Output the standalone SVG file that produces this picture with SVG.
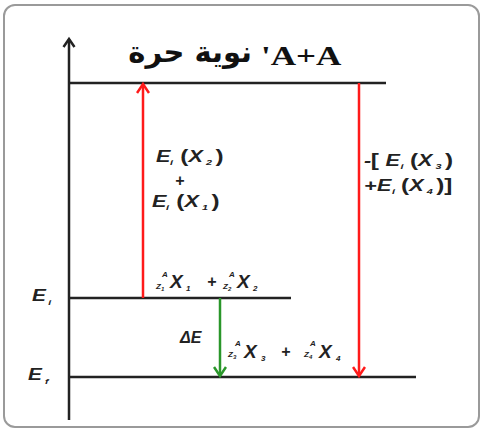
<svg xmlns="http://www.w3.org/2000/svg" width="483" height="430" viewBox="0 0 483 430">
<style>
.lvl{stroke:#222;stroke-width:2.5;fill:none}
.lbl{font-family:"Liberation Sans",Arial,sans-serif;font-style:italic;font-weight:bold;font-size:16px;fill:#222}
.pa{font-size:18px;font-style:normal}
.sm{font-size:8px}
.tn{font-size:6px}
.ttl{font-family:"Liberation Serif","Times New Roman",serif;font-weight:bold;font-size:27px;fill:#111}
.ar{font-family:"DejaVu Sans",sans-serif;font-weight:bold;font-size:29px;fill:#111}
</style>
<defs>
<marker id="hr" markerWidth="14" markerHeight="14" refX="11" refY="7" orient="auto-start-reverse" markerUnits="userSpaceOnUse" viewBox="0 0 14 14">
<polyline points="2,1 11,7 2,13" fill="none" stroke="#ff1a1a" stroke-width="2.5"/>
</marker>
<marker id="hg" markerWidth="14" markerHeight="14" refX="11" refY="7" orient="auto-start-reverse" markerUnits="userSpaceOnUse" viewBox="0 0 14 14">
<polyline points="2,1 11,7 2,13" fill="none" stroke="#2a962a" stroke-width="2.5"/>
</marker>
<marker id="hk" markerWidth="14" markerHeight="14" refX="11" refY="7" orient="auto-start-reverse" markerUnits="userSpaceOnUse" viewBox="0 0 14 14">
<polyline points="3,1.5 11,7 3,12.5" fill="none" stroke="#222" stroke-width="2.5"/>
</marker>
</defs>
<rect x="4" y="5" width="475" height="422" rx="11" fill="#fff" stroke="#9a9a9a" stroke-width="2"/>
<g id="axis">
<line x1="69" y1="39" x2="69" y2="420" class="lvl" marker-start="url(#hk)"/>
</g>
<g id="title">
<text class="ttl" transform="translate(261,65) scale(1.3,1)">'A+A</text>
<text x="252" y="62" class="ar" text-anchor="end">نوية حرة</text>
</g>
<g id="level-top"><line x1="69" y1="83" x2="386" y2="83" class="lvl"/></g>
<g id="level-Ei">
<line x1="69" y1="298" x2="291" y2="298" class="lvl"/>
<text class="lbl" font-size="14" transform="translate(32,301) scale(1.3,1)">E<tspan class="sm" x="12.5" y="4">i</tspan></text>
<text class="lbl"><tspan class="sm" x="162" y="277">A</tspan><tspan class="sm" x="156" y="289">Z</tspan><tspan class="tn" x="161" y="291">1</tspan><tspan x="170" y="288" font-size="19">X</tspan><tspan class="sm" x="186" y="291">1</tspan><tspan x="207" y="287">+</tspan><tspan class="sm" x="229" y="277">A</tspan><tspan class="sm" x="223" y="289">Z</tspan><tspan class="tn" x="228" y="291">2</tspan><tspan x="237" y="288" font-size="19">X</tspan><tspan class="sm" x="253" y="291">2</tspan></text>
</g>
<g id="level-Ef">
<line x1="69" y1="377" x2="416" y2="377" class="lvl"/>
<text class="lbl" font-size="14" transform="translate(28,380) scale(1.3,1)">E<tspan class="sm" x="13" y="4">f</tspan></text>
<text class="lbl"><tspan class="sm" x="235" y="346">A</tspan><tspan class="sm" x="228" y="357">Z</tspan><tspan class="tn" x="233" y="359">3</tspan><tspan x="244" y="358" font-size="19">X</tspan><tspan class="sm" x="261" y="361">3</tspan><tspan x="281" y="357">+</tspan><tspan class="sm" x="310" y="346">A</tspan><tspan class="sm" x="304" y="357">Z</tspan><tspan class="tn" x="309" y="359">4</tspan><tspan x="319" y="358" font-size="19">X</tspan><tspan class="sm" x="336" y="361">4</tspan></text>
</g>
<g id="connectors">
<line x1="143" y1="298" x2="143" y2="84" stroke="#ff1a1a" stroke-width="2.5" marker-end="url(#hr)"/>
<line x1="359" y1="83" x2="359" y2="376" stroke="#ff1a1a" stroke-width="2.5" marker-end="url(#hr)"/>
<line x1="220" y1="298" x2="220" y2="376" stroke="#2a962a" stroke-width="2.5" marker-end="url(#hg)"/>
</g>
<g id="label-up">
<text class="lbl" transform="translate(156,162) scale(1.35,1)">E<tspan class="sm" x="10.4" y="3">i</tspan><tspan class="pa" x="18" y="0">(</tspan><tspan x="24" y="0">X</tspan><tspan class="sm" x="37" y="3">2</tspan><tspan class="pa" x="44" y="0">)</tspan></text>
<text x="175" y="186" class="lbl">+</text>
<text class="lbl" transform="translate(152,207) scale(1.35,1)">E<tspan class="sm" x="10.4" y="3">i</tspan><tspan class="pa" x="18" y="0">(</tspan><tspan x="24" y="0">X</tspan><tspan class="sm" x="37" y="3">1</tspan><tspan class="pa" x="44" y="0">)</tspan></text>
</g>
<g id="label-down">
<text class="lbl" transform="translate(364,166) scale(1.35,1)">-<tspan class="pa" x="5" y="0">[</tspan><tspan x="16" y="0">E</tspan><tspan class="sm" x="27" y="3">i</tspan><tspan class="pa" x="34" y="0">(</tspan><tspan x="40" y="0">X</tspan><tspan class="sm" x="53" y="3">3</tspan><tspan class="pa" x="60" y="0">)</tspan></text>
<text class="lbl" transform="translate(364,191) scale(1.35,1)">+<tspan x="9.6" y="0">E</tspan><tspan class="sm" x="20.7" y="3">i</tspan><tspan class="pa" x="27.5" y="0">(</tspan><tspan x="33.5" y="0">X</tspan><tspan class="sm" x="46.5" y="3">4</tspan><tspan class="pa" x="53.5" y="0">)]</tspan></text>
</g>
<g id="label-dE">
<text x="180" y="343" class="lbl" font-size="14">ΔE</text>
</g>
</svg>
